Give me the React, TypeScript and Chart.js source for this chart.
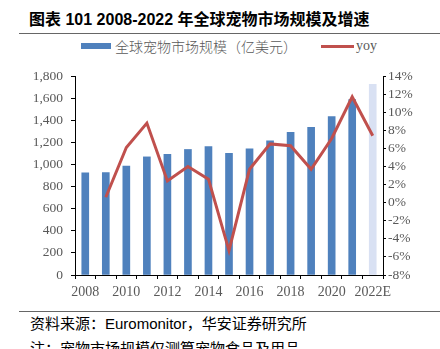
import React, { useEffect, useRef } from "react";
import { Chart, registerables } from "chart.js";

Chart.register(...registerables);

const years = ["2008", "2009", "2010", "2011", "2012", "2013", "2014", "2015", "2016", "2017", "2018", "2019", "2020", "2021", "2022E"];
const marketSize = [924, 927, 985, 1069, 1093, 1136, 1163, 1101, 1142, 1215, 1291, 1337, 1433, 1588, 1725];
const yoy = [null, 0.6, 6.1, 8.8, 2.4, 4.0, 2.6, -5.3, 3.7, 6.5, 6.3, 3.7, 7.1, 11.7, 7.4];
const barColors = ["#4F81BD", "#4F81BD", "#4F81BD", "#4F81BD", "#4F81BD", "#4F81BD", "#4F81BD", "#4F81BD", "#4F81BD", "#4F81BD", "#4F81BD", "#4F81BD", "#4F81BD", "#4F81BD", "#D9E1F3"];
const title = "图表 101 2008-2022 年全球宠物市场规模及增速";
const barLabel = "全球宠物市场规模（亿美元）";
const lineLabel = "yoy";
const source = "资料来源：Euromonitor，华安证券研究所";
const note = "注：宠物市场规模仅测算宠物食品及用品";

const serif = "'Liberation Serif', 'Times New Roman', serif";
const tickColor = "#595959";

export default function App() {
  const ref = useRef<HTMLCanvasElement>(null);
  useEffect(() => {
    if (!ref.current) return;
    const chart = new Chart(ref.current, {
      type: "bar",
      data: {
        labels: years,
        datasets: [
          {
            type: "line",
            label: lineLabel,
            data: yoy,
            yAxisID: "y1",
            borderColor: "#C0504D",
            backgroundColor: "#C0504D",
            borderWidth: 3,
            pointRadius: 0,
            tension: 0,
            order: 0,
          } as any,
          {
            type: "bar",
            label: barLabel,
            data: marketSize,
            yAxisID: "y",
            backgroundColor: barColors,
            barThickness: 7,
            order: 1,
          },
        ],
      },
      options: {
        responsive: false,
        animation: false,
        layout: { padding: { top: 9, left: 0, right: 0, bottom: 0 } },
        plugins: { legend: { display: false }, tooltip: { enabled: false } },
        scales: {
          x: {
            offset: true,
            grid: { display: true, drawOnChartArea: false, offset: true, tickLength: 4, color: "#000" },
            border: { color: "#000", width: 1 },
            ticks: {
              autoSkip: false,
              maxRotation: 0,
              padding: 5,
              color: tickColor,
              font: { family: serif, size: 14 },
              callback: (_v: any, i: number) => (i % 2 === 0 ? years[i] : ""),
            },
            afterFit: (s: any) => { s.height = 25; },
          },
          y: {
            position: "left",
            min: 0,
            max: 1800,
            grid: { drawOnChartArea: false, tickLength: 4, color: "#000" },
            border: { color: "#000", width: 1 },
            ticks: {
              autoSkip: false,
              stepSize: 200,
              padding: 8,
              color: tickColor,
              font: { family: serif, size: 13.5 },
              callback: (v: any) => Number(v).toLocaleString("en-US"),
            },
            afterFit: (s: any) => { s.width = 75; },
          },
          y1: {
            position: "right",
            min: -8,
            max: 14,
            grid: { drawOnChartArea: false, tickLength: 3, color: "#000" },
            border: { color: "#000", width: 1 },
            ticks: {
              autoSkip: false,
              stepSize: 2,
              padding: 2,
              color: tickColor,
              font: { family: serif, size: 13.5 },
              callback: (v: any) => `${v}%`,
            },
            afterFit: (s: any) => { s.width = 57; },
          },
        },
      },
    });
    return () => chart.destroy();
  }, []);

  return (
    <div style={{ position: "absolute", left: 0, top: 0, width: 440, height: 349, overflow: "hidden", background: "#fff" }}>
      <div style={{ position: "absolute", left: 29, top: 10, fontFamily: "'Liberation Sans', Arial, 'Noto Sans CJK SC', sans-serif", fontWeight: 700, fontSize: 16, lineHeight: "20px", color: "#000", whiteSpace: "nowrap" }}>
        {title}
      </div>
      <div style={{ position: "absolute", left: 19, top: 33, width: 421, height: 1, background: "#666" }} />
      <div style={{ position: "absolute", left: 81, top: 43, width: 30, height: 6, background: "#4F81BD" }} />
      <div style={{ position: "absolute", left: 115, top: 37, fontFamily: "'Noto Sans CJK SC', sans-serif", fontWeight: 300, fontSize: 14, lineHeight: "18px", color: tickColor, whiteSpace: "nowrap" }}>
        {barLabel}
      </div>
      <div style={{ position: "absolute", left: 321, top: 45, width: 33, height: 3, background: "#C0504D" }} />
      <div style={{ position: "absolute", left: 356, top: 37, fontFamily: serif, fontSize: 14, lineHeight: "18px", color: tickColor, whiteSpace: "nowrap" }}>
        {lineLabel}
      </div>
      <div style={{ position: "absolute", left: 0, top: 60, width: 440, height: 240 }}>
        <canvas ref={ref} width={440} height={240} style={{ display: "block" }} />
      </div>
      <div style={{ position: "absolute", left: 19, top: 311, width: 421, height: 1, background: "#666" }} />
      <div style={{ position: "absolute", left: 30, top: 315, fontFamily: "Arial, 'Liberation Sans', 'Noto Sans CJK SC', sans-serif", fontSize: 15, lineHeight: "18px", color: "#000", whiteSpace: "nowrap" }}>
        {source}
      </div>
      <div style={{ position: "absolute", left: 30, top: 340, fontFamily: "Arial, 'Liberation Sans', 'Noto Sans CJK SC', sans-serif", fontSize: 15, lineHeight: "18px", color: "#000", whiteSpace: "nowrap" }}>
        {note}
      </div>
    </div>
  );
}
